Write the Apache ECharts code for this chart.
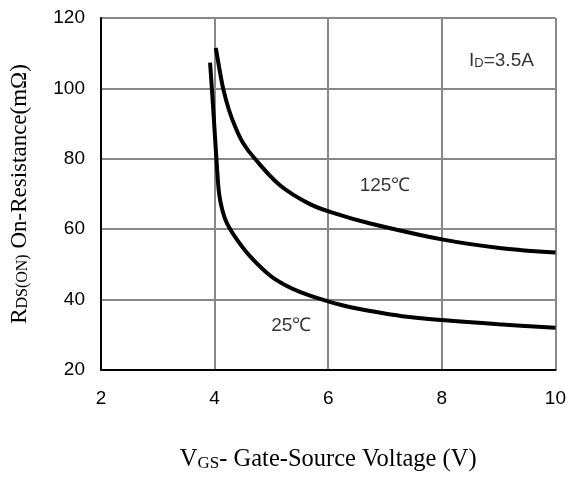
<!DOCTYPE html>
<html>
<head>
<meta charset="utf-8">
<script src="https://cdn.jsdelivr.net/npm/echarts@6/dist/echarts.min.js"></script>
<style>html,body{margin:0;padding:0;background:#fff}#c{width:569px;height:477px}</style>
</head>
<body>
<div id="c"></div>
<script>
// Data
var vgs25 = [3.92, 3.96, 4.0, 4.04, 4.08, 4.14, 4.22, 4.4, 4.63, 4.97, 5.23, 5.5, 5.9, 6.3, 6.8, 7.3, 8.0, 9.0, 10.0];
var rds25 = [107.3, 98, 88, 78, 70, 65.2, 61.6, 56.9, 52.2, 46.9, 44.2, 42.2, 40.0, 38.2, 36.6, 35.3, 34.2, 33.0, 32.0];
var vgs125 = [4.02, 4.08, 4.15, 4.25, 4.37, 4.5, 4.71, 5.15, 5.67, 6.13, 6.74, 8.0, 9.05, 10.0];
var rds125 = [111.5, 106, 100, 94, 88.8, 84.5, 80, 72.5, 67.2, 64.4, 61.6, 57.1, 54.6, 53.4];
var xTicks = [2, 4, 6, 8, 10];
var yTicks = [20, 40, 60, 80, 100, 120];
var labelTexts = ['{n|125℃}', '{n|25℃}', '{n|I}{s|D}{n|=3.5A}'];
var labelX = [7.0, 5.35, 9.05];
var labelY = [73, 33.4, 108.7];

var sans = '"Liberation Sans", Arial, sans-serif';
var serif = '"Liberation Serif", "Times New Roman", serif';

function pairs(xs, ys) { return xs.map(function (x, i) { return [x, ys[i]]; }); }

var chart = echarts.init(document.getElementById('c'), null, { renderer: 'canvas' });
chart.setOption({
  animation: false,
  backgroundColor: '#fff',
  grid: { left: 97, right: 11, top: 18, bottom: 102 },
  xAxis: {
    type: 'value', min: xTicks[0], max: xTicks[xTicks.length - 1], interval: 2,
    axisLine: { lineStyle: { color: '#000', width: 2 } },
    axisTick: { show: false },
    axisLabel: { color: '#000', fontSize: 19, fontFamily: sans, margin: 19 },
    splitLine: { show: true, lineStyle: { color: '#888', width: 2 } },
    name: '{b|V}{s|GS}{b|- Gate-Source Voltage (V)}',
    nameLocation: 'middle', nameGap: 74,
    nameTextStyle: {
      rich: {
        b: { fontFamily: serif, fontSize: 24.5, color: '#000', lineHeight: 28, verticalAlign: 'bottom' },
        s: { fontFamily: serif, fontSize: 17, color: '#000', lineHeight: 26, verticalAlign: 'bottom' }
      }
    }
  },
  yAxis: {
    type: 'value', min: yTicks[0], max: yTicks[yTicks.length - 1], interval: 20,
    axisLine: { show: true, lineStyle: { color: '#000', width: 2 } },
    axisTick: { show: false },
    axisLabel: { color: '#000', fontSize: 19, fontFamily: sans, margin: 16 },
    splitLine: { show: true, lineStyle: { color: '#888', width: 2 } },
    name: '{b|R}{s|DS(ON)}{b| On-Resistance(mΩ)}',
    nameLocation: 'middle', nameGap: 70, nameRotate: 90,
    nameTextStyle: {
      rich: {
        b: { fontFamily: serif, fontSize: 23, color: '#000', lineHeight: 26, verticalAlign: 'bottom' },
        s: { fontFamily: serif, fontSize: 16, color: '#000', lineHeight: 24, verticalAlign: 'bottom' }
      }
    }
  },
  series: [
    {
      name: '25℃', type: 'line', data: pairs(vgs25, rds25), smooth: 0.35,
      showSymbol: false, lineStyle: { color: '#000', width: 4 }, z: 5
    },
    {
      name: '125℃', type: 'line', data: pairs(vgs125, rds125), smooth: 0.35,
      showSymbol: false, lineStyle: { color: '#000', width: 4 }, z: 5
    },
    {
      name: 'labels', type: 'scatter', symbolSize: 0, z: 6,
      data: labelX.map(function (x, i) { return { value: [x, labelY[i]], label: { formatter: labelTexts[i] } }; }),
      label: {
        show: true, position: 'inside',
        rich: {
          n: { fontFamily: sans, fontSize: 19, color: '#000', lineHeight: 24, verticalAlign: 'bottom' },
          s: { fontFamily: sans, fontSize: 13, color: '#000', lineHeight: 20, verticalAlign: 'bottom' }
        }
      },
      silent: true
    }
  ]
});
</script>
</body>
</html>
